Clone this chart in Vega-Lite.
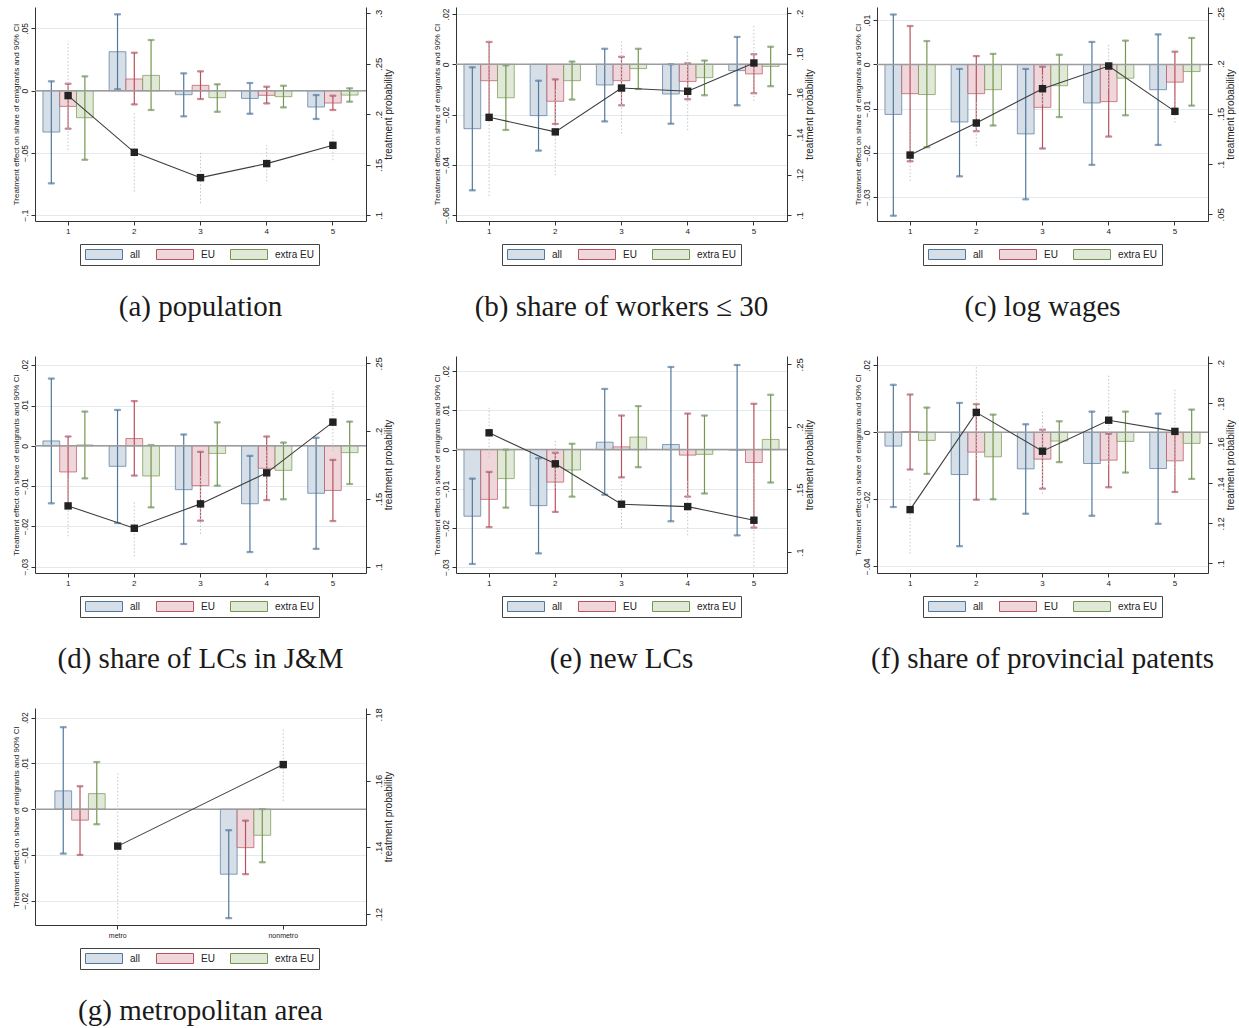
{
"$schema": "https://vega.github.io/schema/vega-lite/v6.json",
"background": "white",
"padding": {"left": 12, "top": 6, "right": 4, "bottom": 4},
"bounds": "flush",
"columns": 3,
"spacing": {"row": 135, "column": 90},
"resolve": {"scale": {"fill": "independent", "stroke": "independent", "x": "independent", "y": "independent"}, "legend": {"fill": "independent", "stroke": "independent"}},
"config": {
  "view": {"stroke": null},
  "font": "Liberation Sans",
  "axis": {"labelFont": "Liberation Sans", "titleFont": "Liberation Sans", "domainColor": "#333", "tickColor": "#333", "labelColor": "#222", "titleColor": "#222", "tickSize": 4, "titleFontWeight": "normal", "grid": false, "labelOverlap": false, "labelFlush": false},
  "axisX": {"labelAngle": 0, "labelFontSize": 8, "labelPadding": 2},
  "axisLeft": {"labelAngle": -90, "labelAlign": "center", "labelBaseline": "bottom", "labelFontSize": 8.5, "labelPadding": 2, "grid": true, "gridColor": "#e1ebee", "gridWidth": 1, "titleFontSize": 8, "titleX": -19, "titleBaseline": "middle", "titleAngle": -90, "titleAlign": "center"},
  "axisRight": {"labelAngle": -90, "labelAlign": "center", "labelBaseline": "top", "labelFontSize": 9.5, "labelPadding": 3, "grid": false, "titleFontSize": 10, "titleX": 22, "titleBaseline": "middle", "titleAngle": -90, "titleAlign": "center"},
  "legend": {"symbolType": "M-1,-0.27H1V0.27H-1Z", "symbolSize": 1369, "symbolStrokeWidth": 1, "clipHeight": 11, "labelFontSize": 10, "labelFont": "Liberation Sans", "labelColor": "#222", "labelOffset": 7, "columnPadding": 15, "padding": 5, "strokeColor": "#444", "fillColor": "#ffffff", "direction": "horizontal"},
  "title": {"font": "Liberation Serif", "fontSize": 29, "fontWeight": "normal", "orient": "bottom", "anchor": "middle", "offset": 27, "color": "#1a1a1a"}
},
"datasets": {
  "a_bars": [
    {"cat":"1","group":"all","est":-0.0332,"lo":-0.0744,"hi":0.0075},
    {"cat":"1","group":"EU","est":-0.0126,"lo":-0.0305,"hi":0.0056},
    {"cat":"1","group":"extra EU","est":-0.0217,"lo":-0.0554,"hi":0.0115},
    {"cat":"2","group":"all","est":0.0313,"lo":0.0011,"hi":0.0613},
    {"cat":"2","group":"EU","est":0.0094,"lo":-0.011,"hi":0.0305},
    {"cat":"2","group":"extra EU","est":0.0123,"lo":-0.0155,"hi":0.0407},
    {"cat":"3","group":"all","est":-0.0032,"lo":-0.0206,"hi":0.0139},
    {"cat":"3","group":"EU","est":0.0043,"lo":-0.0067,"hi":0.0155},
    {"cat":"3","group":"extra EU","est":-0.0056,"lo":-0.0169,"hi":0.0051},
    {"cat":"4","group":"all","est":-0.0062,"lo":-0.0185,"hi":0.0062},
    {"cat":"4","group":"EU","est":-0.0037,"lo":-0.0102,"hi":0.0032},
    {"cat":"4","group":"extra EU","est":-0.0048,"lo":-0.0134,"hi":0.004},
    {"cat":"5","group":"all","est":-0.0131,"lo":-0.0227,"hi":-0.0035},
    {"cat":"5","group":"EU","est":-0.0099,"lo":-0.0155,"hi":-0.004},
    {"cat":"5","group":"extra EU","est":-0.0035,"lo":-0.0088,"hi":0.0019}
  ],
  "a_line": [
    {"cat":"1","p":0.2185,"plo":0.1647,"phi":0.2726},
    {"cat":"2","p":0.1624,"plo":0.1234,"phi":0.201},
    {"cat":"3","p":0.1373,"plo":0.1119,"phi":0.163},
    {"cat":"4","p":0.1512,"plo":0.1337,"phi":0.1693},
    {"cat":"5","p":0.1693,"plo":0.1545,"phi":0.1851}
  ],
  "b_bars": [
    {"cat":"1","group":"all","est":-0.0256,"lo":-0.0501,"hi":-0.0012},
    {"cat":"1","group":"EU","est":-0.0065,"lo":-0.022,"hi":0.0089},
    {"cat":"1","group":"extra EU","est":-0.0133,"lo":-0.0261,"hi":-0.0004},
    {"cat":"2","group":"all","est":-0.0204,"lo":-0.0343,"hi":-0.0065},
    {"cat":"2","group":"EU","est":-0.0147,"lo":-0.0237,"hi":-0.006},
    {"cat":"2","group":"extra EU","est":-0.0065,"lo":-0.014,"hi":0.0011},
    {"cat":"3","group":"all","est":-0.0082,"lo":-0.0227,"hi":0.0062},
    {"cat":"3","group":"EU","est":-0.0065,"lo":-0.0163,"hi":0.003},
    {"cat":"3","group":"extra EU","est":-0.0017,"lo":-0.0098,"hi":0.0062},
    {"cat":"4","group":"all","est":-0.0118,"lo":-0.0236,"hi":0.0},
    {"cat":"4","group":"EU","est":-0.0068,"lo":-0.0139,"hi":0.0004},
    {"cat":"4","group":"extra EU","est":-0.0053,"lo":-0.0123,"hi":0.0015},
    {"cat":"5","group":"all","est":-0.0025,"lo":-0.0163,"hi":0.0109},
    {"cat":"5","group":"EU","est":-0.0038,"lo":-0.0115,"hi":0.004},
    {"cat":"5","group":"extra EU","est":-0.0008,"lo":-0.0087,"hi":0.007}
  ],
  "b_line": [
    {"cat":"1","p":0.1485,"plo":0.1096,"phi":0.1876},
    {"cat":"2","p":0.1413,"plo":0.1198,"phi":0.1627},
    {"cat":"3","p":0.163,"plo":0.1404,"phi":0.186},
    {"cat":"4","p":0.1614,"plo":0.1421,"phi":0.1809},
    {"cat":"5","p":0.1754,"plo":0.1566,"phi":0.1945}
  ],
  "c_bars": [
    {"cat":"1","group":"all","est":-0.0113,"lo":-0.0342,"hi":0.0113},
    {"cat":"1","group":"EU","est":-0.0066,"lo":-0.0219,"hi":0.0087},
    {"cat":"1","group":"extra EU","est":-0.0068,"lo":-0.0187,"hi":0.0053},
    {"cat":"2","group":"all","est":-0.013,"lo":-0.0253,"hi":-0.001},
    {"cat":"2","group":"EU","est":-0.0066,"lo":-0.0151,"hi":0.0019},
    {"cat":"2","group":"extra EU","est":-0.0057,"lo":-0.0138,"hi":0.0024},
    {"cat":"3","group":"all","est":-0.0157,"lo":-0.0305,"hi":-0.001},
    {"cat":"3","group":"EU","est":-0.0097,"lo":-0.019,"hi":-0.0005},
    {"cat":"3","group":"extra EU","est":-0.0048,"lo":-0.0119,"hi":0.0022},
    {"cat":"4","group":"all","est":-0.0087,"lo":-0.0227,"hi":0.0051},
    {"cat":"4","group":"EU","est":-0.0084,"lo":-0.0163,"hi":0.0},
    {"cat":"4","group":"extra EU","est":-0.0031,"lo":-0.0115,"hi":0.0054},
    {"cat":"5","group":"all","est":-0.0057,"lo":-0.0182,"hi":0.0068},
    {"cat":"5","group":"EU","est":-0.004,"lo":-0.011,"hi":0.0029},
    {"cat":"5","group":"extra EU","est":-0.0016,"lo":-0.0093,"hi":0.006}
  ],
  "c_line": [
    {"cat":"1","p":0.109,"plo":0.0832,"phi":0.1346},
    {"cat":"2","p":0.1409,"plo":0.118,"phi":0.1628},
    {"cat":"3","p":0.175,"plo":0.1595,"phi":0.191},
    {"cat":"4","p":0.1976,"plo":0.1754,"phi":0.2198},
    {"cat":"5","p":0.1525,"plo":0.1412,"phi":0.1661}
  ],
  "d_bars": [
    {"cat":"1","group":"all","est":0.0012,"lo":-0.0143,"hi":0.0167},
    {"cat":"1","group":"EU","est":-0.0065,"lo":-0.015,"hi":0.0023},
    {"cat":"1","group":"extra EU","est":0.0002,"lo":-0.0081,"hi":0.0085},
    {"cat":"2","group":"all","est":-0.0051,"lo":-0.0192,"hi":0.0089},
    {"cat":"2","group":"EU","est":0.0018,"lo":-0.0074,"hi":0.0111},
    {"cat":"2","group":"extra EU","est":-0.0075,"lo":-0.0153,"hi":0.0002},
    {"cat":"3","group":"all","est":-0.0109,"lo":-0.0244,"hi":0.0028},
    {"cat":"3","group":"EU","est":-0.0099,"lo":-0.0186,"hi":-0.0015},
    {"cat":"3","group":"extra EU","est":-0.0019,"lo":-0.0099,"hi":0.0058},
    {"cat":"4","group":"all","est":-0.0144,"lo":-0.0264,"hi":-0.0025},
    {"cat":"4","group":"EU","est":-0.0056,"lo":-0.0135,"hi":0.0023},
    {"cat":"4","group":"extra EU","est":-0.0061,"lo":-0.0133,"hi":0.0008},
    {"cat":"5","group":"all","est":-0.0118,"lo":-0.0256,"hi":0.002},
    {"cat":"5","group":"EU","est":-0.0111,"lo":-0.0187,"hi":-0.0035},
    {"cat":"5","group":"extra EU","est":-0.0017,"lo":-0.0095,"hi":0.006}
  ],
  "d_line": [
    {"cat":"1","p":0.1448,"plo":0.1224,"phi":0.1655},
    {"cat":"2","p":0.1283,"plo":0.1076,"phi":0.1483},
    {"cat":"3","p":0.1463,"plo":0.1241,"phi":0.168},
    {"cat":"4","p":0.1692,"plo":0.1532,"phi":0.1852},
    {"cat":"5","p":0.2066,"plo":0.1852,"phi":0.2296}
  ],
  "e_bars": [
    {"cat":"1","group":"all","est":-0.017,"lo":-0.0292,"hi":-0.0074},
    {"cat":"1","group":"EU","est":-0.0127,"lo":-0.0198,"hi":-0.0057},
    {"cat":"1","group":"extra EU","est":-0.0074,"lo":-0.0148,"hi":0.0},
    {"cat":"2","group":"all","est":-0.0143,"lo":-0.0265,"hi":-0.0022},
    {"cat":"2","group":"EU","est":-0.0083,"lo":-0.0159,"hi":-0.0008},
    {"cat":"2","group":"extra EU","est":-0.0052,"lo":-0.012,"hi":0.0015},
    {"cat":"3","group":"all","est":0.0019,"lo":-0.0115,"hi":0.0155},
    {"cat":"3","group":"EU","est":0.0007,"lo":-0.0071,"hi":0.0087},
    {"cat":"3","group":"extra EU","est":0.0032,"lo":-0.0045,"hi":0.0111},
    {"cat":"4","group":"all","est":0.0013,"lo":-0.0183,"hi":0.0211},
    {"cat":"4","group":"EU","est":-0.0014,"lo":-0.012,"hi":0.0092},
    {"cat":"4","group":"extra EU","est":-0.0012,"lo":-0.0112,"hi":0.0087},
    {"cat":"5","group":"all","est":-0.0001,"lo":-0.0219,"hi":0.0216},
    {"cat":"5","group":"EU","est":-0.0033,"lo":-0.0199,"hi":0.0117},
    {"cat":"5","group":"extra EU","est":0.0026,"lo":-0.0084,"hi":0.014}
  ],
  "e_line": [
    {"cat":"1","p":0.1953,"plo":0.1753,"phi":0.2153},
    {"cat":"2","p":0.1705,"plo":0.1513,"phi":0.1892},
    {"cat":"3","p":0.1382,"plo":0.1192,"phi":0.158},
    {"cat":"4","p":0.1363,"plo":0.1134,"phi":0.1566},
    {"cat":"5","p":0.1254,"plo":0.0885,"phi":0.1633}
  ],
  "f_bars": [
    {"cat":"1","group":"all","est":-0.0041,"lo":-0.0223,"hi":0.0142},
    {"cat":"1","group":"EU","est":0.0002,"lo":-0.0111,"hi":0.0113},
    {"cat":"1","group":"extra EU","est":-0.0024,"lo":-0.0124,"hi":0.0074},
    {"cat":"2","group":"all","est":-0.0126,"lo":-0.034,"hi":0.0088},
    {"cat":"2","group":"EU","est":-0.0059,"lo":-0.0201,"hi":0.0084},
    {"cat":"2","group":"extra EU","est":-0.0073,"lo":-0.02,"hi":0.0053},
    {"cat":"3","group":"all","est":-0.0109,"lo":-0.0243,"hi":0.0024},
    {"cat":"3","group":"EU","est":-0.008,"lo":-0.0168,"hi":0.0008},
    {"cat":"3","group":"extra EU","est":-0.0026,"lo":-0.0089,"hi":0.0033},
    {"cat":"4","group":"all","est":-0.0093,"lo":-0.0249,"hi":0.0062},
    {"cat":"4","group":"EU","est":-0.0083,"lo":-0.0164,"hi":-0.0004},
    {"cat":"4","group":"extra EU","est":-0.0027,"lo":-0.012,"hi":0.0062},
    {"cat":"5","group":"all","est":-0.0108,"lo":-0.0273,"hi":0.0056},
    {"cat":"5","group":"EU","est":-0.0085,"lo":-0.0178,"hi":0.0},
    {"cat":"5","group":"extra EU","est":-0.0033,"lo":-0.0139,"hi":0.0068}
  ],
  "f_line": [
    {"cat":"1","p":0.1269,"plo":0.1048,"phi":0.1428},
    {"cat":"2","p":0.1755,"plo":0.1519,"phi":0.199},
    {"cat":"3","p":0.1561,"plo":0.1349,"phi":0.177},
    {"cat":"4","p":0.1716,"plo":0.1494,"phi":0.194},
    {"cat":"5","p":0.166,"plo":0.1441,"phi":0.1878}
  ],
  "g_bars": [
    {"cat":"metro","group":"all","est":0.004,"lo":-0.0097,"hi":0.0179},
    {"cat":"metro","group":"EU","est":-0.0024,"lo":-0.01,"hi":0.005},
    {"cat":"metro","group":"extra EU","est":0.0034,"lo":-0.0033,"hi":0.0103},
    {"cat":"nonmetro","group":"all","est":-0.0142,"lo":-0.0238,"hi":-0.0046},
    {"cat":"nonmetro","group":"EU","est":-0.0084,"lo":-0.0142,"hi":-0.0025},
    {"cat":"nonmetro","group":"extra EU","est":-0.0057,"lo":-0.0116,"hi":0.0}
  ],
  "g_line": [
    {"cat":"metro","p":0.1404,"plo":0.1187,"phi":0.1622},
    {"cat":"nonmetro","p":0.1649,"plo":0.1539,"phi":0.1759}
  ]
},
"concat": [
{
 "width": 331, "height": 214, "title": "(a) population",
 "resolve": {"scale": {"y": "independent"}},
 "layer": [
  {"data": {"name": "a_bars"}, "layer": [
    {"mark": {"type": "bar", "strokeWidth": 1, "strokeOpacity": 0.7},
     "encoding": {
      "x": {"field": "cat", "type": "ordinal", "title": null, "scale": {"paddingInner": 0.24, "paddingOuter": 0.12}},
      "xOffset": {"field": "group", "type": "nominal", "sort": null, "scale": {"domain": ["all","EU","extra EU"], "paddingInner": 0, "paddingOuter": 0}},
      "y": {"field": "est", "type": "quantitative", "scale": {"domain": [-0.1046, 0.0672], "nice": false, "zero": false}, "axis": {"orient": "left", "values": [-0.1, -0.05, 0, 0.05], "labelExpr": "replace(format(datum.value, '.2~f'), '0.', '.')", "title": "Treatment effect on share of emigrants and 90% CI"}},
      "fill": {"field": "group", "type": "nominal", "scale": {"domain": ["all","EU","extra EU"], "range": ["#d6dfe8", "#eed6da", "#e0e8d7"]}, "legend": {"title": null, "orient": "none", "legendX": 45, "legendY": 237}},
      "stroke": {"field": "group", "type": "nominal", "scale": {"domain": ["all","EU","extra EU"], "range": ["#52779c", "#b9525f", "#76964f"]}, "legend": {"title": null, "orient": "none", "legendX": 45, "legendY": 237}}
     }},
    {"mark": {"type": "rule", "strokeWidth": 1.2},
     "encoding": {"x": {"field": "cat", "type": "ordinal", "title": null}, "xOffset": {"field": "group", "type": "nominal", "sort": null}, "y": {"field": "lo", "type": "quantitative"}, "y2": {"field": "hi"}, "stroke": {"field": "group", "type": "nominal"}}},
    {"mark": {"type": "tick", "thickness": 1.2, "size": 6},
     "encoding": {"x": {"field": "cat", "type": "ordinal", "title": null}, "xOffset": {"field": "group", "type": "nominal", "sort": null}, "y": {"field": "lo", "type": "quantitative"}, "stroke": {"field": "group", "type": "nominal"}}},
    {"mark": {"type": "tick", "thickness": 1.2, "size": 6},
     "encoding": {"x": {"field": "cat", "type": "ordinal", "title": null}, "xOffset": {"field": "group", "type": "nominal", "sort": null}, "y": {"field": "hi", "type": "quantitative"}, "stroke": {"field": "group", "type": "nominal"}}},
    {"data": {"values": [{}]}, "mark": {"type": "rule", "color": "#9c9c9c", "strokeWidth": 1.5}, "encoding": {"y": {"datum": 0}}}
  ]},
  {"data": {"name": "a_line"}, "layer": [
    {"mark": {"type": "rule", "strokeDash": [1.5, 2], "color": "#c4c4c4", "strokeWidth": 1},
     "encoding": {"x": {"field": "cat", "type": "ordinal", "title": null}, "y": {"field": "plo", "type": "quantitative", "scale": {"domain": [0.0944, 0.3062], "nice": false, "zero": false}, "axis": {"orient": "right", "values": [0.1, 0.15, 0.2, 0.25, 0.3], "labelExpr": "replace(format(datum.value, '.2~f'), '0.', '.')", "title": "treatment probability"}}, "y2": {"field": "phi"}}},
    {"mark": {"type": "line", "color": "#3d3d3d", "strokeWidth": 1.1},
     "encoding": {"x": {"field": "cat", "type": "ordinal", "title": null}, "y": {"field": "p", "type": "quantitative"}}},
    {"mark": {"type": "point", "shape": "square", "filled": true, "size": 55, "color": "#222222", "opacity": 1},
     "encoding": {"x": {"field": "cat", "type": "ordinal", "title": null}, "y": {"field": "p", "type": "quantitative"}}}
  ]}
 ]
},
{
 "width": 331, "height": 214, "title": "(b) share of workers ≤ 30",
 "resolve": {"scale": {"y": "independent"}},
 "layer": [
  {"data": {"name": "b_bars"}, "layer": [
    {"mark": {"type": "bar", "strokeWidth": 1, "strokeOpacity": 0.7},
     "encoding": {
      "x": {"field": "cat", "type": "ordinal", "title": null, "scale": {"paddingInner": 0.24, "paddingOuter": 0.12}},
      "xOffset": {"field": "group", "type": "nominal", "sort": null, "scale": {"domain": ["all","EU","extra EU"], "paddingInner": 0, "paddingOuter": 0}},
      "y": {"field": "est", "type": "quantitative", "scale": {"domain": [-0.0623, 0.0228], "nice": false, "zero": false}, "axis": {"orient": "left", "values": [-0.06, -0.04, -0.02, 0, 0.02], "labelExpr": "replace(format(datum.value, '.2~f'), '0.', '.')", "title": "Treatment effect on share of emigrants and 90% CI"}},
      "fill": {"field": "group", "type": "nominal", "scale": {"domain": ["all","EU","extra EU"], "range": ["#d6dfe8", "#eed6da", "#e0e8d7"]}, "legend": {"title": null, "orient": "none", "legendX": 46, "legendY": 237}},
      "stroke": {"field": "group", "type": "nominal", "scale": {"domain": ["all","EU","extra EU"], "range": ["#52779c", "#b9525f", "#76964f"]}, "legend": {"title": null, "orient": "none", "legendX": 46, "legendY": 237}}
     }},
    {"mark": {"type": "rule", "strokeWidth": 1.2},
     "encoding": {"x": {"field": "cat", "type": "ordinal", "title": null}, "xOffset": {"field": "group", "type": "nominal", "sort": null}, "y": {"field": "lo", "type": "quantitative"}, "y2": {"field": "hi"}, "stroke": {"field": "group", "type": "nominal"}}},
    {"mark": {"type": "tick", "thickness": 1.2, "size": 6},
     "encoding": {"x": {"field": "cat", "type": "ordinal", "title": null}, "xOffset": {"field": "group", "type": "nominal", "sort": null}, "y": {"field": "lo", "type": "quantitative"}, "stroke": {"field": "group", "type": "nominal"}}},
    {"mark": {"type": "tick", "thickness": 1.2, "size": 6},
     "encoding": {"x": {"field": "cat", "type": "ordinal", "title": null}, "xOffset": {"field": "group", "type": "nominal", "sort": null}, "y": {"field": "hi", "type": "quantitative"}, "stroke": {"field": "group", "type": "nominal"}}},
    {"data": {"values": [{}]}, "mark": {"type": "rule", "color": "#9c9c9c", "strokeWidth": 1.5}, "encoding": {"y": {"datum": 0}}}
  ]},
  {"data": {"name": "b_line"}, "layer": [
    {"mark": {"type": "rule", "strokeDash": [1.5, 2], "color": "#c4c4c4", "strokeWidth": 1},
     "encoding": {"x": {"field": "cat", "type": "ordinal", "title": null}, "y": {"field": "plo", "type": "quantitative", "scale": {"domain": [0.0972, 0.2031], "nice": false, "zero": false}, "axis": {"orient": "right", "values": [0.1, 0.12, 0.14, 0.16, 0.18, 0.2], "labelExpr": "replace(format(datum.value, '.2~f'), '0.', '.')", "title": "treatment probability"}}, "y2": {"field": "phi"}}},
    {"mark": {"type": "line", "color": "#3d3d3d", "strokeWidth": 1.1},
     "encoding": {"x": {"field": "cat", "type": "ordinal", "title": null}, "y": {"field": "p", "type": "quantitative"}}},
    {"mark": {"type": "point", "shape": "square", "filled": true, "size": 55, "color": "#222222", "opacity": 1},
     "encoding": {"x": {"field": "cat", "type": "ordinal", "title": null}, "y": {"field": "p", "type": "quantitative"}}}
  ]}
 ]
},
{
 "width": 331, "height": 214, "title": "(c) log wages",
 "resolve": {"scale": {"y": "independent"}},
 "layer": [
  {"data": {"name": "c_bars"}, "layer": [
    {"mark": {"type": "bar", "strokeWidth": 1, "strokeOpacity": 0.7},
     "encoding": {
      "x": {"field": "cat", "type": "ordinal", "title": null, "scale": {"paddingInner": 0.24, "paddingOuter": 0.12}},
      "xOffset": {"field": "group", "type": "nominal", "sort": null, "scale": {"domain": ["all","EU","extra EU"], "paddingInner": 0, "paddingOuter": 0}},
      "y": {"field": "est", "type": "quantitative", "scale": {"domain": [-0.0354, 0.013], "nice": false, "zero": false}, "axis": {"orient": "left", "values": [-0.03, -0.02, -0.01, 0, 0.01], "labelExpr": "replace(format(datum.value, '.2~f'), '0.', '.')", "title": "Treatment effect on share of emigrants and 90% CI"}},
      "fill": {"field": "group", "type": "nominal", "scale": {"domain": ["all","EU","extra EU"], "range": ["#d6dfe8", "#eed6da", "#e0e8d7"]}, "legend": {"title": null, "orient": "none", "legendX": 46, "legendY": 237}},
      "stroke": {"field": "group", "type": "nominal", "scale": {"domain": ["all","EU","extra EU"], "range": ["#52779c", "#b9525f", "#76964f"]}, "legend": {"title": null, "orient": "none", "legendX": 46, "legendY": 237}}
     }},
    {"mark": {"type": "rule", "strokeWidth": 1.2},
     "encoding": {"x": {"field": "cat", "type": "ordinal", "title": null}, "xOffset": {"field": "group", "type": "nominal", "sort": null}, "y": {"field": "lo", "type": "quantitative"}, "y2": {"field": "hi"}, "stroke": {"field": "group", "type": "nominal"}}},
    {"mark": {"type": "tick", "thickness": 1.2, "size": 6},
     "encoding": {"x": {"field": "cat", "type": "ordinal", "title": null}, "xOffset": {"field": "group", "type": "nominal", "sort": null}, "y": {"field": "lo", "type": "quantitative"}, "stroke": {"field": "group", "type": "nominal"}}},
    {"mark": {"type": "tick", "thickness": 1.2, "size": 6},
     "encoding": {"x": {"field": "cat", "type": "ordinal", "title": null}, "xOffset": {"field": "group", "type": "nominal", "sort": null}, "y": {"field": "hi", "type": "quantitative"}, "stroke": {"field": "group", "type": "nominal"}}},
    {"data": {"values": [{}]}, "mark": {"type": "rule", "color": "#9c9c9c", "strokeWidth": 1.5}, "encoding": {"y": {"datum": 0}}}
  ]},
  {"data": {"name": "c_line"}, "layer": [
    {"mark": {"type": "rule", "strokeDash": [1.5, 2], "color": "#c4c4c4", "strokeWidth": 1},
     "encoding": {"x": {"field": "cat", "type": "ordinal", "title": null}, "y": {"field": "plo", "type": "quantitative", "scale": {"domain": [0.0434, 0.2563], "nice": false, "zero": false}, "axis": {"orient": "right", "values": [0.05, 0.1, 0.15, 0.2, 0.25], "labelExpr": "replace(format(datum.value, '.2~f'), '0.', '.')", "title": "treatment probability"}}, "y2": {"field": "phi"}}},
    {"mark": {"type": "line", "color": "#3d3d3d", "strokeWidth": 1.1},
     "encoding": {"x": {"field": "cat", "type": "ordinal", "title": null}, "y": {"field": "p", "type": "quantitative"}}},
    {"mark": {"type": "point", "shape": "square", "filled": true, "size": 55, "color": "#222222", "opacity": 1},
     "encoding": {"x": {"field": "cat", "type": "ordinal", "title": null}, "y": {"field": "p", "type": "quantitative"}}}
  ]}
 ]
},
{
 "width": 331, "height": 217, "title": "(d) share of LCs in J&M",
 "resolve": {"scale": {"y": "independent"}},
 "layer": [
  {"data": {"name": "d_bars"}, "layer": [
    {"mark": {"type": "bar", "strokeWidth": 1, "strokeOpacity": 0.7},
     "encoding": {
      "x": {"field": "cat", "type": "ordinal", "title": null, "scale": {"paddingInner": 0.24, "paddingOuter": 0.12}},
      "xOffset": {"field": "group", "type": "nominal", "sort": null, "scale": {"domain": ["all","EU","extra EU"], "paddingInner": 0, "paddingOuter": 0}},
      "y": {"field": "est", "type": "quantitative", "scale": {"domain": [-0.0316, 0.0223], "nice": false, "zero": false}, "axis": {"orient": "left", "values": [-0.03, -0.02, -0.01, 0, 0.01, 0.02], "labelExpr": "replace(format(datum.value, '.2~f'), '0.', '.')", "title": "Treatment effect on share of emigrants and 90% CI"}},
      "fill": {"field": "group", "type": "nominal", "scale": {"domain": ["all","EU","extra EU"], "range": ["#d6dfe8", "#eed6da", "#e0e8d7"]}, "legend": {"title": null, "orient": "none", "legendX": 45, "legendY": 240}},
      "stroke": {"field": "group", "type": "nominal", "scale": {"domain": ["all","EU","extra EU"], "range": ["#52779c", "#b9525f", "#76964f"]}, "legend": {"title": null, "orient": "none", "legendX": 45, "legendY": 240}}
     }},
    {"mark": {"type": "rule", "strokeWidth": 1.2},
     "encoding": {"x": {"field": "cat", "type": "ordinal", "title": null}, "xOffset": {"field": "group", "type": "nominal", "sort": null}, "y": {"field": "lo", "type": "quantitative"}, "y2": {"field": "hi"}, "stroke": {"field": "group", "type": "nominal"}}},
    {"mark": {"type": "tick", "thickness": 1.2, "size": 6},
     "encoding": {"x": {"field": "cat", "type": "ordinal", "title": null}, "xOffset": {"field": "group", "type": "nominal", "sort": null}, "y": {"field": "lo", "type": "quantitative"}, "stroke": {"field": "group", "type": "nominal"}}},
    {"mark": {"type": "tick", "thickness": 1.2, "size": 6},
     "encoding": {"x": {"field": "cat", "type": "ordinal", "title": null}, "xOffset": {"field": "group", "type": "nominal", "sort": null}, "y": {"field": "hi", "type": "quantitative"}, "stroke": {"field": "group", "type": "nominal"}}},
    {"data": {"values": [{}]}, "mark": {"type": "rule", "color": "#9c9c9c", "strokeWidth": 1.5}, "encoding": {"y": {"datum": 0}}}
  ]},
  {"data": {"name": "d_line"}, "layer": [
    {"mark": {"type": "rule", "strokeDash": [1.5, 2], "color": "#c4c4c4", "strokeWidth": 1},
     "encoding": {"x": {"field": "cat", "type": "ordinal", "title": null}, "y": {"field": "plo", "type": "quantitative", "scale": {"domain": [0.0953, 0.2554], "nice": false, "zero": false}, "axis": {"orient": "right", "values": [0.1, 0.15, 0.2, 0.25], "labelExpr": "replace(format(datum.value, '.2~f'), '0.', '.')", "title": "treatment probability"}}, "y2": {"field": "phi"}}},
    {"mark": {"type": "line", "color": "#3d3d3d", "strokeWidth": 1.1},
     "encoding": {"x": {"field": "cat", "type": "ordinal", "title": null}, "y": {"field": "p", "type": "quantitative"}}},
    {"mark": {"type": "point", "shape": "square", "filled": true, "size": 55, "color": "#222222", "opacity": 1},
     "encoding": {"x": {"field": "cat", "type": "ordinal", "title": null}, "y": {"field": "p", "type": "quantitative"}}}
  ]}
 ]
},
{
 "width": 331, "height": 217, "title": "(e) new LCs",
 "resolve": {"scale": {"y": "independent"}},
 "layer": [
  {"data": {"name": "e_bars"}, "layer": [
    {"mark": {"type": "bar", "strokeWidth": 1, "strokeOpacity": 0.7},
     "encoding": {
      "x": {"field": "cat", "type": "ordinal", "title": null, "scale": {"paddingInner": 0.24, "paddingOuter": 0.12}},
      "xOffset": {"field": "group", "type": "nominal", "sort": null, "scale": {"domain": ["all","EU","extra EU"], "paddingInner": 0, "paddingOuter": 0}},
      "y": {"field": "est", "type": "quantitative", "scale": {"domain": [-0.0315, 0.0239], "nice": false, "zero": false}, "axis": {"orient": "left", "values": [-0.03, -0.02, -0.01, 0, 0.01, 0.02], "labelExpr": "replace(format(datum.value, '.2~f'), '0.', '.')", "title": "Treatment effect on share of emigrants and 90% CI"}},
      "fill": {"field": "group", "type": "nominal", "scale": {"domain": ["all","EU","extra EU"], "range": ["#d6dfe8", "#eed6da", "#e0e8d7"]}, "legend": {"title": null, "orient": "none", "legendX": 46, "legendY": 240}},
      "stroke": {"field": "group", "type": "nominal", "scale": {"domain": ["all","EU","extra EU"], "range": ["#52779c", "#b9525f", "#76964f"]}, "legend": {"title": null, "orient": "none", "legendX": 46, "legendY": 240}}
     }},
    {"mark": {"type": "rule", "strokeWidth": 1.2},
     "encoding": {"x": {"field": "cat", "type": "ordinal", "title": null}, "xOffset": {"field": "group", "type": "nominal", "sort": null}, "y": {"field": "lo", "type": "quantitative"}, "y2": {"field": "hi"}, "stroke": {"field": "group", "type": "nominal"}}},
    {"mark": {"type": "tick", "thickness": 1.2, "size": 6},
     "encoding": {"x": {"field": "cat", "type": "ordinal", "title": null}, "xOffset": {"field": "group", "type": "nominal", "sort": null}, "y": {"field": "lo", "type": "quantitative"}, "stroke": {"field": "group", "type": "nominal"}}},
    {"mark": {"type": "tick", "thickness": 1.2, "size": 6},
     "encoding": {"x": {"field": "cat", "type": "ordinal", "title": null}, "xOffset": {"field": "group", "type": "nominal", "sort": null}, "y": {"field": "hi", "type": "quantitative"}, "stroke": {"field": "group", "type": "nominal"}}},
    {"data": {"values": [{}]}, "mark": {"type": "rule", "color": "#9c9c9c", "strokeWidth": 1.5}, "encoding": {"y": {"datum": 0}}}
  ]},
  {"data": {"name": "e_line"}, "layer": [
    {"mark": {"type": "rule", "strokeDash": [1.5, 2], "color": "#c4c4c4", "strokeWidth": 1},
     "encoding": {"x": {"field": "cat", "type": "ordinal", "title": null}, "y": {"field": "plo", "type": "quantitative", "scale": {"domain": [0.0832, 0.2567], "nice": false, "zero": false}, "axis": {"orient": "right", "values": [0.1, 0.15, 0.2, 0.25], "labelExpr": "replace(format(datum.value, '.2~f'), '0.', '.')", "title": "treatment probability"}}, "y2": {"field": "phi"}}},
    {"mark": {"type": "line", "color": "#3d3d3d", "strokeWidth": 1.1},
     "encoding": {"x": {"field": "cat", "type": "ordinal", "title": null}, "y": {"field": "p", "type": "quantitative"}}},
    {"mark": {"type": "point", "shape": "square", "filled": true, "size": 55, "color": "#222222", "opacity": 1},
     "encoding": {"x": {"field": "cat", "type": "ordinal", "title": null}, "y": {"field": "p", "type": "quantitative"}}}
  ]}
 ]
},
{
 "width": 331, "height": 217, "title": "(f) share of provincial patents",
 "resolve": {"scale": {"y": "independent"}},
 "layer": [
  {"data": {"name": "f_bars"}, "layer": [
    {"mark": {"type": "bar", "strokeWidth": 1, "strokeOpacity": 0.7},
     "encoding": {
      "x": {"field": "cat", "type": "ordinal", "title": null, "scale": {"paddingInner": 0.24, "paddingOuter": 0.12}},
      "xOffset": {"field": "group", "type": "nominal", "sort": null, "scale": {"domain": ["all","EU","extra EU"], "paddingInner": 0, "paddingOuter": 0}},
      "y": {"field": "est", "type": "quantitative", "scale": {"domain": [-0.042, 0.0228], "nice": false, "zero": false}, "axis": {"orient": "left", "values": [-0.04, -0.02, 0, 0.02], "labelExpr": "replace(format(datum.value, '.2~f'), '0.', '.')", "title": "Treatment effect on share of emigrants and 90% CI"}},
      "fill": {"field": "group", "type": "nominal", "scale": {"domain": ["all","EU","extra EU"], "range": ["#d6dfe8", "#eed6da", "#e0e8d7"]}, "legend": {"title": null, "orient": "none", "legendX": 46, "legendY": 240}},
      "stroke": {"field": "group", "type": "nominal", "scale": {"domain": ["all","EU","extra EU"], "range": ["#52779c", "#b9525f", "#76964f"]}, "legend": {"title": null, "orient": "none", "legendX": 46, "legendY": 240}}
     }},
    {"mark": {"type": "rule", "strokeWidth": 1.2},
     "encoding": {"x": {"field": "cat", "type": "ordinal", "title": null}, "xOffset": {"field": "group", "type": "nominal", "sort": null}, "y": {"field": "lo", "type": "quantitative"}, "y2": {"field": "hi"}, "stroke": {"field": "group", "type": "nominal"}}},
    {"mark": {"type": "tick", "thickness": 1.2, "size": 6},
     "encoding": {"x": {"field": "cat", "type": "ordinal", "title": null}, "xOffset": {"field": "group", "type": "nominal", "sort": null}, "y": {"field": "lo", "type": "quantitative"}, "stroke": {"field": "group", "type": "nominal"}}},
    {"mark": {"type": "tick", "thickness": 1.2, "size": 6},
     "encoding": {"x": {"field": "cat", "type": "ordinal", "title": null}, "xOffset": {"field": "group", "type": "nominal", "sort": null}, "y": {"field": "hi", "type": "quantitative"}, "stroke": {"field": "group", "type": "nominal"}}},
    {"data": {"values": [{}]}, "mark": {"type": "rule", "color": "#9c9c9c", "strokeWidth": 1.5}, "encoding": {"y": {"datum": 0}}}
  ]},
  {"data": {"name": "f_line"}, "layer": [
    {"mark": {"type": "rule", "strokeDash": [1.5, 2], "color": "#c4c4c4", "strokeWidth": 1},
     "encoding": {"x": {"field": "cat", "type": "ordinal", "title": null}, "y": {"field": "plo", "type": "quantitative", "scale": {"domain": [0.0952, 0.2037], "nice": false, "zero": false}, "axis": {"orient": "right", "values": [0.1, 0.12, 0.14, 0.16, 0.18, 0.2], "labelExpr": "replace(format(datum.value, '.2~f'), '0.', '.')", "title": "treatment probability"}}, "y2": {"field": "phi"}}},
    {"mark": {"type": "line", "color": "#3d3d3d", "strokeWidth": 1.1},
     "encoding": {"x": {"field": "cat", "type": "ordinal", "title": null}, "y": {"field": "p", "type": "quantitative"}}},
    {"mark": {"type": "point", "shape": "square", "filled": true, "size": 55, "color": "#222222", "opacity": 1},
     "encoding": {"x": {"field": "cat", "type": "ordinal", "title": null}, "y": {"field": "p", "type": "quantitative"}}}
  ]}
 ]
},
{
 "width": 331, "height": 217, "title": "(g) metropolitan area",
 "resolve": {"scale": {"y": "independent"}},
 "layer": [
  {"data": {"name": "g_bars"}, "layer": [
    {"mark": {"type": "bar", "strokeWidth": 1, "strokeOpacity": 0.7},
     "encoding": {
      "x": {"field": "cat", "type": "ordinal", "title": null, "scale": {"paddingInner": 0.24, "paddingOuter": 0.12}, "axis": {"labelFontSize": 7}},
      "xOffset": {"field": "group", "type": "nominal", "sort": null, "scale": {"domain": ["all","EU","extra EU"], "paddingInner": 0, "paddingOuter": 0}},
      "y": {"field": "est", "type": "quantitative", "scale": {"domain": [-0.0253, 0.0221], "nice": false, "zero": false}, "axis": {"orient": "left", "values": [-0.02, -0.01, 0, 0.01, 0.02], "labelExpr": "replace(format(datum.value, '.2~f'), '0.', '.')", "title": "Treatment effect on share of emigrants and 90% CI"}},
      "fill": {"field": "group", "type": "nominal", "scale": {"domain": ["all","EU","extra EU"], "range": ["#d6dfe8", "#eed6da", "#e0e8d7"]}, "legend": {"title": null, "orient": "none", "legendX": 45, "legendY": 240}},
      "stroke": {"field": "group", "type": "nominal", "scale": {"domain": ["all","EU","extra EU"], "range": ["#52779c", "#b9525f", "#76964f"]}, "legend": {"title": null, "orient": "none", "legendX": 45, "legendY": 240}}
     }},
    {"mark": {"type": "rule", "strokeWidth": 1.2},
     "encoding": {"x": {"field": "cat", "type": "ordinal", "title": null}, "xOffset": {"field": "group", "type": "nominal", "sort": null}, "y": {"field": "lo", "type": "quantitative"}, "y2": {"field": "hi"}, "stroke": {"field": "group", "type": "nominal"}}},
    {"mark": {"type": "tick", "thickness": 1.2, "size": 6},
     "encoding": {"x": {"field": "cat", "type": "ordinal", "title": null}, "xOffset": {"field": "group", "type": "nominal", "sort": null}, "y": {"field": "lo", "type": "quantitative"}, "stroke": {"field": "group", "type": "nominal"}}},
    {"mark": {"type": "tick", "thickness": 1.2, "size": 6},
     "encoding": {"x": {"field": "cat", "type": "ordinal", "title": null}, "xOffset": {"field": "group", "type": "nominal", "sort": null}, "y": {"field": "hi", "type": "quantitative"}, "stroke": {"field": "group", "type": "nominal"}}},
    {"data": {"values": [{}]}, "mark": {"type": "rule", "color": "#9c9c9c", "strokeWidth": 1.5}, "encoding": {"y": {"datum": 0}}}
  ]},
  {"data": {"name": "g_line"}, "layer": [
    {"mark": {"type": "rule", "strokeDash": [1.5, 2], "color": "#c4c4c4", "strokeWidth": 1},
     "encoding": {"x": {"field": "cat", "type": "ordinal", "title": null}, "y": {"field": "plo", "type": "quantitative", "scale": {"domain": [0.1167, 0.1819], "nice": false, "zero": false}, "axis": {"orient": "right", "values": [0.12, 0.14, 0.16, 0.18], "labelExpr": "replace(format(datum.value, '.2~f'), '0.', '.')", "title": "treatment probability"}}, "y2": {"field": "phi"}}},
    {"mark": {"type": "line", "color": "#3d3d3d", "strokeWidth": 1.1},
     "encoding": {"x": {"field": "cat", "type": "ordinal", "title": null}, "y": {"field": "p", "type": "quantitative"}}},
    {"mark": {"type": "point", "shape": "square", "filled": true, "size": 55, "color": "#222222", "opacity": 1},
     "encoding": {"x": {"field": "cat", "type": "ordinal", "title": null}, "y": {"field": "p", "type": "quantitative"}}}
  ]}
 ]
}
]
}
